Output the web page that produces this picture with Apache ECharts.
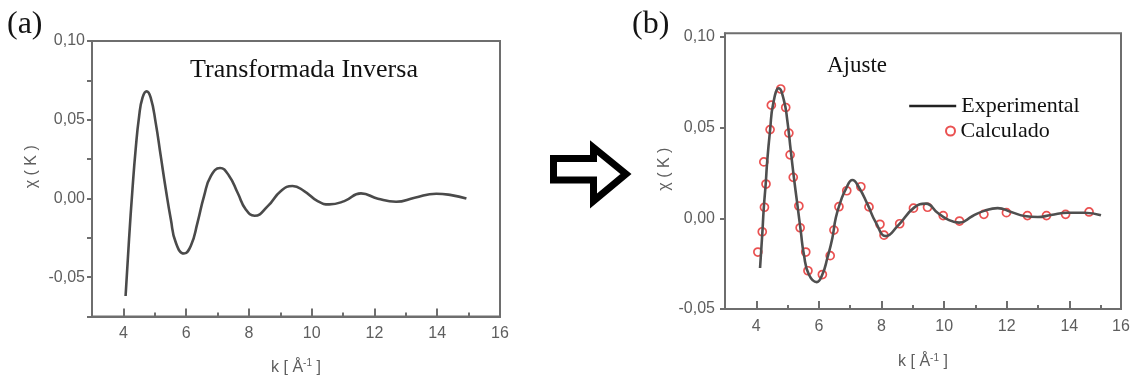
<!DOCTYPE html>
<html>
<head>
<meta charset="utf-8">
<script src="https://cdn.jsdelivr.net/npm/echarts@6/dist/echarts.min.js"></script>
<style>
html,body{margin:0;padding:0;background:#fff;}
#chart{width:1133px;height:383px;}
</style>
</head>
<body>
<div id="chart"></div>
<script>
// ---- Panel (a): Transformada Inversa ----
const kA   = [4.07, 4.18, 4.29, 4.39, 4.50, 4.61, 4.74, 4.87, 5.03, 5.19, 5.35, 5.51, 5.67, 5.93, 6.15, 6.36, 6.57, 6.79, 7.08, 7.37, 7.64, 7.90, 8.18, 8.60, 9.02, 9.39, 9.76, 10.19, 10.56, 11.04, 11.57, 12.11, 12.69, 13.28, 13.97, 14.45, 14.93];
const chiA = [-0.062, -0.026, 0.006, 0.031, 0.052, 0.064, 0.068, 0.064, 0.048, 0.027, 0.006, -0.013, -0.028, -0.035, -0.030, -0.0155, 0.0015, 0.0143, 0.0193, 0.0143, 0.0036, -0.007, -0.011, -0.0049, 0.0047, 0.0079, 0.0047, -0.0017, -0.0038, -0.0017, 0.0032, -0.0002, -0.0021, 0.0004, 0.003, 0.0021, 0.0];

// ---- Panel (b): Ajuste ----
const kExp   = [4.12, 4.19, 4.24, 4.30, 4.35, 4.44, 4.54, 4.72, 4.88, 4.99, 5.10, 5.20, 5.31, 5.42, 5.52, 5.68, 5.93, 6.11, 6.27, 6.43, 6.54, 6.70, 6.86, 7.07, 7.28, 7.55, 7.82, 8.14, 8.51, 9.04, 9.42, 9.79, 10.11, 10.48, 10.91, 11.28, 11.71, 12.14, 12.56, 12.99, 13.41, 13.95, 14.48, 15.01];
const chiExp = [-0.0274, -0.0089, 0.0059, 0.0189, 0.0318, 0.0485, 0.0633, 0.0717, 0.0652, 0.054, 0.0374, 0.0226, 0.0078, -0.0071, -0.020, -0.031, -0.0352, -0.031, -0.0219, -0.0108, 0.0003, 0.0096, 0.0161, 0.0211, 0.017, 0.0078, -0.0024, -0.0098, -0.0043, 0.0059, 0.0081, 0.0031, -0.0006, -0.0024, 0.0013, 0.0041, 0.0056, 0.0035, 0.0013, 0.0007, 0.0018, 0.0031, 0.0031, 0.0017];

const kCalc   = [4.05, 4.19, 4.26, 4.31, 4.24, 4.44, 4.48, 4.78, 4.94, 5.04, 5.08, 5.18, 5.36, 5.40, 5.58, 5.65, 6.11, 6.36, 6.48, 6.64, 6.89, 7.34, 7.60, 7.95, 8.08, 8.58, 9.02, 9.47, 9.97, 10.49, 11.27, 11.99, 12.66, 13.27, 13.88, 14.63];
const chiCalc = [-0.0186, -0.0074, 0.0061, 0.0189, 0.0311, 0.0489, 0.0624, 0.0713, 0.0611, 0.047, 0.035, 0.0226, 0.0068, -0.0052, -0.0186, -0.0289, -0.031, -0.0206, -0.0065, 0.0064, 0.0152, 0.0174, 0.0063, -0.0033, -0.0093, -0.003, 0.0056, 0.0061, 0.0015, -0.0015, 0.0022, 0.0031, 0.0015, 0.0015, 0.0022, 0.0035];

// ---- Axis ranges / tick steps ----
const xMinA = 3, xMaxA = 16, yMinA = -0.075, yMaxA = 0.10;
const xMinB = 3, xMaxB = 15.65, yMinB = -0.05, yMaxB = 0.102;
const xMinorStep = 1, yStepA = 0.025, yStepB = 0.05;

const gray = '#5e5e5e';
const frame = '#6e6e6e';
const sansFont = "'Liberation Sans', Arial, sans-serif";
const serifFont = "'Liberation Serif', 'Times New Roman', serif";
const yFmt = v => v.toFixed(2).replace('.', ',');
const yFmtHalf = v => (Math.abs(Math.round(v * 1000)) % 50 === 0 ? yFmt(v) : '');
const xNameRich = { sup: { fontSize: 10, padding: [0, 0, 8, 0], color: gray, fontFamily: sansFont } };
const axisLineStyle = { show: true, onZero: false, lineStyle: { color: frame, width: 2 } };
const zeroLineStyle = { show: true, onZero: true, lineStyle: { color: frame, width: 2 } };
const tickStyle = { color: frame, width: 2 };
const labelStyle = { color: gray, fontSize: 16, fontFamily: sansFont };

const rectA = { left: 92, top: 41, width: 408, height: 275.5 };
const rectB = { left: 725, top: 33.3, width: 396, height: 275.7 };

// data axes (hidden) for the series
function dataX(grid, min, max) {
  return { type: 'value', gridIndex: grid, min: min, max: max, show: false, axisLine: { show: false, onZero: false }, splitLine: { show: false } };
}
// tick / label axes, sitting on the zero of a [0,1] helper y axis = bottom edge
function majorX(grid, min, max, margin, nameGap) {
  return {
    type: 'value', gridIndex: grid, min: min, max: max, splitNumber: 6,
    axisLine: zeroLineStyle,
    axisTick: { show: true, inside: true, length: 8, lineStyle: tickStyle },
    axisLabel: Object.assign({ formatter: v => (v === min ? '' : String(Math.round(v))), margin: margin }, labelStyle),
    splitLine: { show: false },
    name: 'k [ Å{sup|-1} ]', nameLocation: 'middle', nameGap: nameGap,
    nameTextStyle: Object.assign({ rich: xNameRich }, labelStyle)
  };
}
function minorX(grid, min, max) {
  return {
    type: 'value', gridIndex: grid, min: min, max: max, interval: xMinorStep,
    axisLine: zeroLineStyle,
    axisTick: { show: true, inside: true, length: 4, lineStyle: tickStyle },
    axisLabel: { show: false }, splitLine: { show: false }
  };
}
function helperY(grid) {
  return { type: 'value', gridIndex: grid, min: 0, max: 1, show: false, axisLine: { show: false }, splitLine: { show: false } };
}

const option = {
  animation: false,
  backgroundColor: '#ffffff',
  grid: [
    Object.assign({ show: true, borderColor: frame, borderWidth: 2, backgroundColor: 'transparent' }, rectA),
    Object.assign({ show: true, borderColor: frame, borderWidth: 2, backgroundColor: 'transparent' }, rectB),
    Object.assign({ show: false }, rectA),
    Object.assign({ show: false }, rectB),
    Object.assign({ show: false }, rectA),
    Object.assign({ show: false }, rectB)
  ],
  xAxis: [
    dataX(0, xMinA, xMaxA),
    dataX(1, xMinB, xMaxB),
    majorX(2, xMinA, xMaxA, 9, 42),
    majorX(3, xMinB, xMaxB, 10, 44),
    minorX(4, xMinA, xMaxA),
    minorX(5, xMinB, xMaxB)
  ],
  yAxis: [
    {
      type: 'value', gridIndex: 0, min: yMinA, max: yMaxA, interval: yStepA,
      axisLine: axisLineStyle,
      axisTick: { show: true, inside: false, length: 5, lineStyle: tickStyle },
      axisLabel: Object.assign({ formatter: yFmtHalf, margin: 7 }, labelStyle),
      splitLine: { show: false },
      name: 'χ ( K )', nameLocation: 'middle', nameGap: 52, nameRotate: 90,
      nameTextStyle: Object.assign({ padding: [0, 0, 0, 24] }, labelStyle)
    },
    {
      type: 'value', gridIndex: 1, min: yMinB, max: yMaxB, interval: yStepB,
      axisLine: axisLineStyle,
      axisTick: { show: true, inside: false, length: 5, lineStyle: tickStyle },
      axisLabel: Object.assign({ formatter: yFmt, margin: 10, showMaxLabel: false }, labelStyle),
      splitLine: { show: false },
      name: 'χ ( K )', nameLocation: 'middle', nameGap: 52, nameRotate: 90,
      nameTextStyle: Object.assign({ padding: [0, 0, 0, 4] }, labelStyle)
    },
    helperY(2), helperY(3), helperY(4), helperY(5)
  ],
  legend: [
    {
      data: ['Experimental'], left: 908, top: 94, orient: 'vertical', padding: 0,
      itemWidth: 47, itemHeight: 14,
      itemStyle: { opacity: 0 },
      lineStyle: { width: 2.4, color: '#222' },
      textStyle: { fontFamily: serifFont, fontSize: 22, color: '#111', lineHeight: 24 }
    },
    {
      data: ['Calculado'], left: 945, top: 119, orient: 'vertical', padding: 0,
      itemWidth: 10, itemHeight: 9,
      textStyle: { fontFamily: serifFont, fontSize: 22, color: '#111', lineHeight: 24 }
    }
  ],
  series: [
    {
      name: 'Transformada Inversa', type: 'line', xAxisIndex: 0, yAxisIndex: 0,
      data: kA.map((k, i) => [k, chiA[i]]), smooth: 0.5, symbol: 'none',
      lineStyle: { color: '#4a4a4a', width: 2.6 }
    },
    {
      name: 'Experimental', type: 'line', xAxisIndex: 1, yAxisIndex: 1,
      data: kExp.map((k, i) => [k, chiExp[i]]), smooth: 0.5, symbol: 'none',
      lineStyle: { color: '#4f4f4f', width: 2.6 }, itemStyle: { color: '#222' }
    },
    {
      name: 'Calculado', type: 'scatter', xAxisIndex: 1, yAxisIndex: 1,
      data: kCalc.map((k, i) => [k, chiCalc[i]]), symbol: 'circle', symbolSize: 8,
      itemStyle: { color: 'rgba(255,255,255,0)', borderColor: '#e52525', borderWidth: 1.7 }
    }
  ],
  graphic: [
    { type: 'text', left: 7, top: 9, style: { text: '(a)', font: '32px ' + serifFont, fill: '#141414' } },
    { type: 'text', left: 632, top: 9, style: { text: '(b)', font: '32px ' + serifFont, fill: '#141414' } },
    { type: 'text', left: 190, top: 57, style: { text: 'Transformada Inversa', font: '26px ' + serifFont, fill: '#111' } },
    { type: 'text', left: 827, top: 54, style: { text: 'Ajuste', font: '23px ' + serifFont, fill: '#111' } },
    {
      type: 'polygon',
      shape: { points: [[553.5, 158.5], [593.5, 158.5], [593.5, 147.5], [626, 174], [593.5, 201], [593.5, 180], [553.5, 180]] },
      style: { fill: '#fff', stroke: '#000', lineWidth: 7, lineJoin: 'miter' }
    }
  ]
};

const chart = echarts.init(document.getElementById('chart'), null, { renderer: 'canvas' });
chart.setOption(option);
</script>
</body>
</html>
